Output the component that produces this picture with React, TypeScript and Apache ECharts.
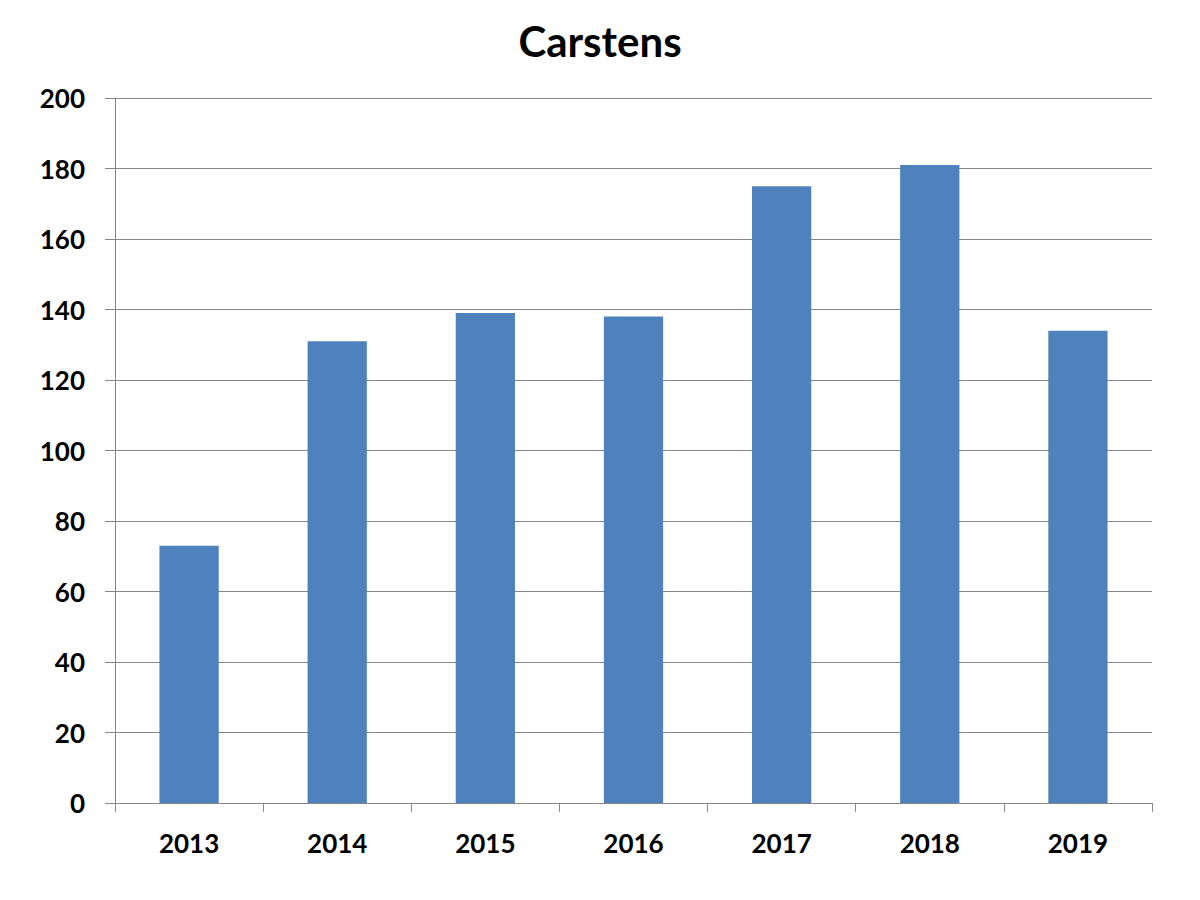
import React, { useEffect, useRef } from "react";
import * as echarts from "echarts";

const categories = ["2013", "2014", "2015", "2016", "2017", "2018", "2019"];
const values = [73, 131, 139, 138, 175, 181, 134];
const titleText = "Carstens";

export default function App() {
  const ref = useRef<HTMLDivElement>(null);
  useEffect(() => {
    const chart = echarts.init(ref.current!, null, { renderer: "svg" });
    const axisColor = "#868686";
    const font = "Lato, 'Open Sans', sans-serif";
    chart.setOption({
      animation: false,
      backgroundColor: "#ffffff",
      title: {
        text: titleText,
        left: "center",
        top: 15,
        textStyle: { fontSize: 42, fontWeight: "bold", color: "#000", fontFamily: font },
      },
      grid: { left: 115, right: 48, top: 98, bottom: 97, containLabel: false },
      xAxis: {
        type: "category",
        data: categories,
        boundaryGap: true,
        axisLine: { show: true, lineStyle: { color: axisColor, width: 1 } },
        axisTick: { show: true, length: 9, alignWithLabel: false, lineStyle: { color: axisColor } },
        axisLabel: { margin: 27, fontSize: 26, fontWeight: "bold", color: "#000", fontFamily: font },
        splitLine: { show: false },
      },
      yAxis: {
        type: "value",
        min: 0,
        max: 200,
        interval: 20,
        axisLine: { show: true, lineStyle: { color: axisColor, width: 1 } },
        axisTick: { show: true, length: 10, lineStyle: { color: axisColor } },
        axisLabel: { margin: 30, fontSize: 26, fontWeight: "bold", color: "#000", fontFamily: font },
        splitLine: { show: true, lineStyle: { color: axisColor, width: 1 } },
      },
      series: [
        {
          type: "bar",
          data: values,
          barWidth: "40%",
          itemStyle: { color: "#4f81bd" },
        },
      ],
    });
    return () => chart.dispose();
  }, []);
  return (
    <div
      ref={ref}
      style={{ position: "absolute", left: 0, top: 0, width: 1200, height: 900 }}
    />
  );
}
